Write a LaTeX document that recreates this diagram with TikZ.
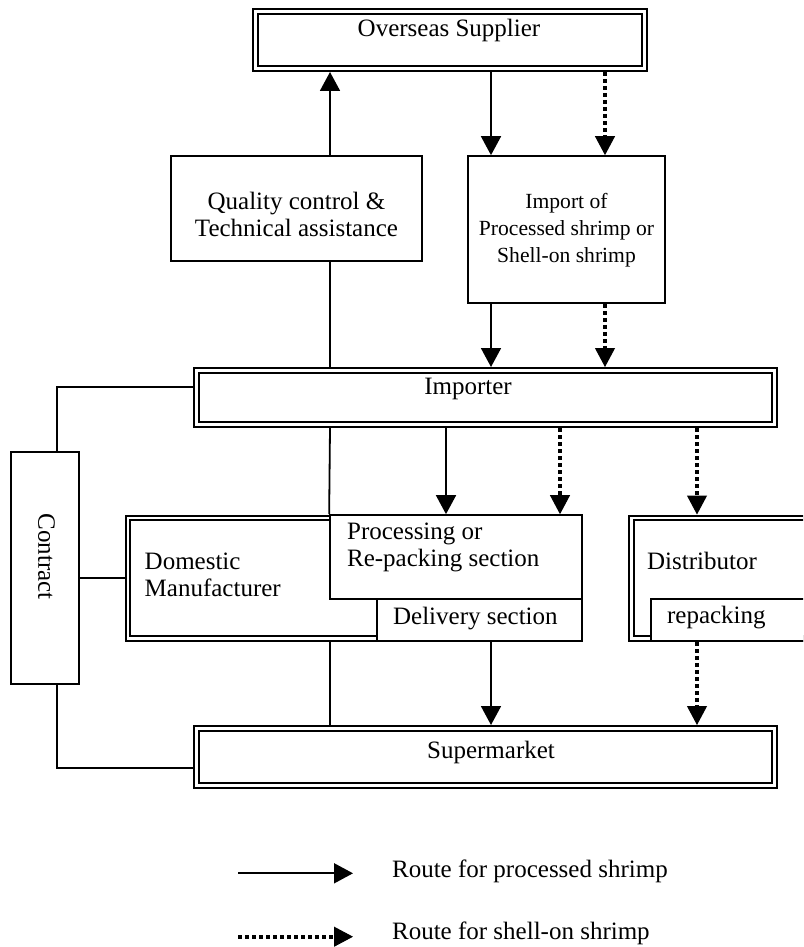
\documentclass[tikz,border=0pt]{standalone}
\usepackage{fontspec}
\setmainfont{Liberation Serif}
\usetikzlibrary{arrows.meta,fit,positioning}

\tikzset{
  box/.style={draw, line width=0.85pt, fill=white, inner sep=0pt},
  dbox/.style={draw, double, double distance=1.3pt, line width=1pt, fill=white, inner sep=0pt, outer sep=1.65pt},
  link/.style={line width=0.9pt},
  route/.style={line width=0.9pt, -{Triangle[width=10pt,length=9.5pt]}},
  shellroute/.style={line width=2pt, dash pattern=on 2pt off 1.5pt, -{Triangle[width=10pt,length=9.5pt,line width=0.5pt]}},
  txt/.style={inner sep=0pt}
}

\begin{document}
\begin{tikzpicture}[x=0.5pt, y=-0.5pt, font=\fontsize{12.5}{13.5}\selectfont]
\useasboundingbox (0,0) rectangle (803,947);
\clip (0,0) rectangle (803,947);

% columns of the routes
\coordinate (qline) at (330,0);
\coordinate (prcA) at (491,0);
\coordinate (shlA) at (605,0);
\coordinate (prcB) at (446,0);
\coordinate (shlB) at (560,0);
\coordinate (shlC) at (697,0);
\coordinate (ctop) at (57,387);
\coordinate (cbot) at (57,768);

\node[dbox, fit={(255.3,11.3) (644.7,68.7)}] (os) {};
\node[txt, anchor=base] (ostxt) at (449,36.5) {Overseas Supplier};

\node[box, fit={(171,156) (422,261)}] (qc) {};
\node[txt, anchor=base, align=center] (qctxt) at (296.5,236) {Quality control \&\\Technical assistance};
\node[box, fit={(468,156) (665,303)}] (imp) {};
\node[txt, anchor=base, align=center, font=\fontsize{10.8}{13.5}\selectfont] (imptxt) at (566.5,262) {Import of\\Processed shrimp or\\Shell-on shrimp};

\node[dbox, fit={(196.3,370.3) (774.7,424.7)}] (importer) {};
\node[txt, anchor=base] (importertxt) at (468,394) {Importer};

\node[box, fit={(11,452) (79,684)}] (contract) {};
\node[txt, rotate=-90] (contracttxt) at (46.5,556.7) {Contract};

\node[dbox, fit={(127.8,517.8) (566,638.4)}] (dm) {};
\node[txt, anchor=base west, align=left] (dmtxt) at (144.3,596.7) {Domestic\\Manufacturer};

\node[box, fit={(330,515) (582,599)}] (proc) {};
\node[txt, anchor=base west, align=left] (proctxt) at (346.7,566.7) {Processing or\\Re-packing section};
\node[box, fit={(377,599) (582,641)}] (deliv) {};
\node[txt, anchor=base west] (delivtxt) at (392.7,624) {Delivery section};

\node[dbox, fit={(631.3,517.8) (840,638.4)}] (dist) {};
\node[txt, anchor=base west] (disttxt) at (646.7,569.3) {Distributor};
\node[box, fit={(651,599) (840,641)}] (repack) {};
\node[txt, anchor=base west] (repacktxt) at (666.7,623.5) {repacking};

\node[dbox, fit={(196.3,728.3) (774.7,785.7)}] (sm) {};
\node[txt, anchor=base] (smtxt) at (491,758) {Supermarket};

\draw[route] (qc.north -| qline) -- (os.south -| qline);
\draw[link] (qc.south -| qline) -- (importer.north -| qline);
\draw[link] (importer.south -| qline) -- (proc.north west);
\draw[link] (dm.south -| qline) -- (sm.north -| qline);

\draw[route] (os.south -| prcA) -- (imp.north -| prcA);
\draw[shellroute] (os.south -| shlA) -- (imp.north -| shlA);
\draw[route] (imp.south -| prcA) -- (importer.north -| prcA);
\draw[shellroute] (imp.south -| shlA) -- (importer.north -| shlA);
\draw[route] (importer.south -| prcB) -- (proc.north -| prcB);
\draw[shellroute] (importer.south -| shlB) -- (proc.north -| shlB);
\draw[shellroute] (importer.south -| shlC) -- (dist.north -| shlC);
\draw[route] (deliv.south -| prcA) -- (sm.north -| prcA);
\draw[shellroute] (repack.south -| shlC) -- (sm.north -| shlC);

\draw[link] (contract.north -| ctop) -- (ctop) -- (ctop -| importer.west);
\draw[link] (contract.east |- dm.west) -- (dm.west);
\draw[link] (contract.south -| cbot) -- (cbot) -- (cbot -| sm.west);

% legend
\coordinate (lgA) at (238,873.3);
\coordinate (lgAe) at (353,873.3);
\coordinate (lgB) at (238,936.7);
\coordinate (lgBe) at (353,936.7);
\draw[route] (lgA) -- (lgAe);
\draw[shellroute] (lgB) -- (lgBe);
\node[txt, anchor=base west] (lgAtxt) at (391.7,877.3) {Route for processed shrimp};
\node[txt, anchor=base west] (lgBtxt) at (391.7,939.5) {Route for shell-on shrimp};
\end{tikzpicture}
\end{document}
